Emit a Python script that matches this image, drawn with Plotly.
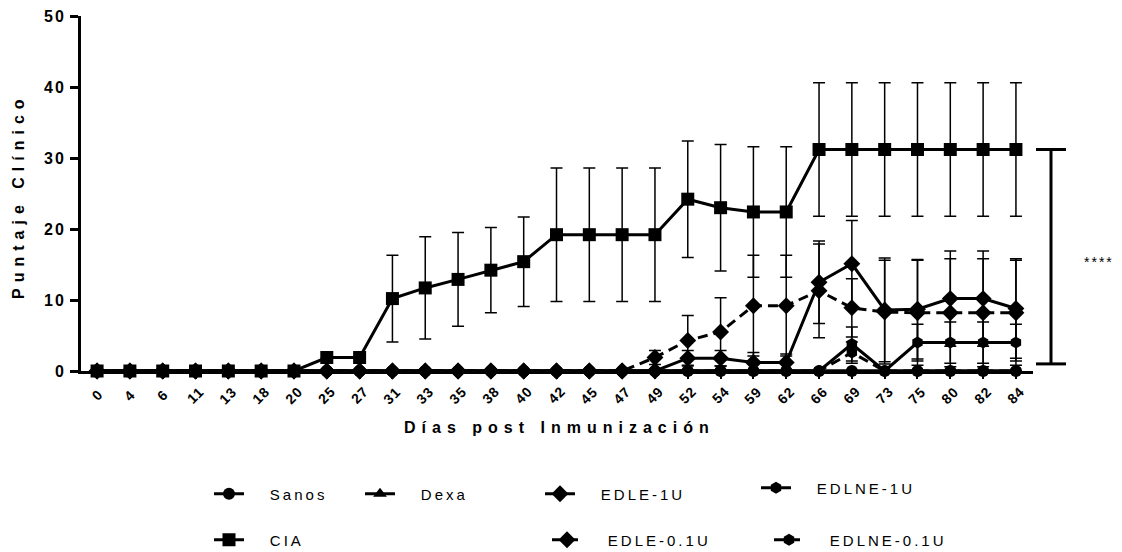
import plotly.graph_objects as go

# Days after immunization (categorical x axis)
dias = ["0", "4", "6", "11", "13", "18", "20", "25", "27", "31", "33", "35", "38", "40",
        "42", "45", "47", "49", "52", "54", "59", "62", "66", "69", "73", "75", "80", "82", "84"]

# Mean clinical score per group
sanos = [0, 0, 0, 0, 0, 0, 0, 0, 0, 0, 0, 0, 0, 0, 0, 0, 0, 0, 0, 0, 0, 0, 0, 0, 0, 0, 0, 0, 0]
dexa = [0, 0, 0, 0, 0, 0, 0, 0, 0, 0, 0, 0, 0, 0, 0, 0, 0, 0, 0, 0, 0, 0, 0, 0, 0, 0, 0, 0, 0]
edle_1u = [0, 0, 0, 0, 0, 0, 0, 0, 0, 0, 0, 0, 0, 0, 0, 0, 0, 0,
           1.8, 1.8, 1.2, 1.2, 12.5, 15.1, 8.6, 8.7, 10.2, 10.2, 8.8]
edlne_1u = [0, 0, 0, 0, 0, 0, 0, 0, 0, 0, 0, 0, 0, 0, 0, 0, 0, 0, 0, 0, 0, 0, 0,
            3.8, 0, 4.0, 4.0, 4.0, 4.0]
cia = [0, 0, 0, 0, 0, 0, 0, 1.9, 1.9, 10.2, 11.7, 12.9, 14.2, 15.4,
       19.2, 19.2, 19.2, 19.2, 24.2, 23.0, 22.4, 22.4, 31.2, 31.2, 31.2, 31.2, 31.2, 31.2, 31.2]
edle_01u = [0, 0, 0, 0, 0, 0, 0, 0, 0, 0, 0, 0, 0, 0, 0, 0, 0,
            1.9, 4.3, 5.5, 9.2, 9.2, 11.3, 8.9, 8.3, 8.2, 8.2, 8.2, 8.2]
edlne_01u = [0, 0, 0, 0, 0, 0, 0, 0, 0, 0, 0, 0, 0, 0, 0, 0, 0, 0, 0, 0, 0, 0, 0,
             2.6, 0, 0, 0, 0, 0]

# Standard deviation per group
sanos_sd = [0, 0, 0, 0, 0, 0, 0, 0, 0, 0, 0, 0, 0, 0, 0, 0, 0, 0, 0, 0, 0, 0, 0, 0, 0, 0, 0, 0, 0]
dexa_sd = [0, 0, 0, 0, 0, 0, 0, 0, 0, 0, 0, 0, 0, 0, 0, 0, 0, 0, 0, 0, 0, 0, 0, 0, 0, 0, 0, 0, 0]
edle_1u_sd = [0, 0, 0, 0, 0, 0, 0, 0, 0, 0, 0, 0, 0, 0, 0, 0, 0, 0,
              1.1, 1.1, 1.4, 1.2, 5.8, 6.1, 7.3, 7.0, 6.7, 6.7, 7.0]
edlne_1u_sd = [0, 0, 0, 0, 0, 0, 0, 0, 0, 0, 0, 0, 0, 0, 0, 0, 0, 0, 0, 0, 0, 0, 0,
               2.4, 0, 2.6, 2.9, 2.9, 2.6]
cia_sd = [0, 0, 0, 0, 0, 0, 0, 0, 0, 6.1, 7.2, 6.6, 6.0, 6.3,
          9.4, 9.4, 9.4, 9.4, 8.2, 8.9, 9.2, 9.2, 9.4, 9.4, 9.4, 9.4, 9.4, 9.4, 9.4]
edle_01u_sd = [0, 0, 0, 0, 0, 0, 0, 0, 0, 0, 0, 0, 0, 0, 0, 0, 0,
               1.0, 3.5, 4.8, 7.1, 7.1, 6.6, 4.1, 7.3, 7.4, 7.6, 7.6, 7.4]
edlne_01u_sd = [0, 0, 0, 0, 0, 0, 0, 0, 0, 0, 0, 0, 0, 0, 0, 0, 0, 0, 0, 0, 0, 0, 0,
                1.5, 0, 0, 0, 0, 0]

y_ticks = [0, 10, 20, 30, 40, 50]

# Significance bracket between the CIA plateau and the treated groups
bracket_top = 31.2
bracket_bottom = 1.0

FONT = "Liberation Sans, Arial, sans-serif"
BLACK = "#000000"

W, H = 1122, 552
ML, MR, MT, MB = 81, 89, 16, 181
PW, PH = W - ML - MR, H - MT - MB
Y_MAX = 50


def px_x(px):
    """Pixel column -> paper fraction."""
    return (px - ML) / PW


def px_y(py):
    """Pixel row -> paper fraction."""
    return (H - MB - py) / PH


series = [
    # name, values, sd, symbol, size, dash, legend id, symbol centre (px x, px y)
    ("Sanos", sanos, sanos_sd, "circle", 12, "solid", "legend", (229, 494)),
    ("Dexa", dexa, dexa_sd, "triangle-up", 12, "solid", "legend2", (380, 494)),
    ("EDLE-1U", edle_1u, edle_1u_sd, "diamond", 13, "solid", "legend3", (560, 494)),
    ("EDLNE-1U", edlne_1u, edlne_1u_sd, "hexagon", 12, "solid", "legend4", (776, 488)),
    ("CIA", cia, cia_sd, "square", 13, "solid", "legend5", (229, 540)),
    ("EDLE-0.1U", edle_01u, edle_01u_sd, "diamond", 13, "10px,6px", "legend6", (567, 540)),
    ("EDLNE-0.1U", edlne_01u, edlne_01u_sd, "hexagon", 12, "10px,6px", "legend7", (789, 540)),
]

fig = go.Figure()
legends = {}
for name, vals, sd, sym, size, dash, leg, (cx, cy) in series:
    fig.add_trace(go.Scatter(
        x=dias, y=vals,
        name='&nbsp;&nbsp;&nbsp;&nbsp;&nbsp;<span style="letter-spacing:3px">' + name + '</span>',
        mode="lines+markers",
        line=dict(color=BLACK, width=3, dash=dash),
        marker=dict(symbol=sym, size=size, color=BLACK),
        error_y=dict(type="data", array=sd, visible=True, color=BLACK,
                     thickness=1.5, width=6),
        cliponaxis=False,
        legend=leg,
    ))
    legends[leg] = dict(
        x=(cx - 20) / W, y=1 - cy / H, xref="container", yref="container",
        xanchor="left", yanchor="middle",
        bgcolor="rgba(0,0,0,0)", borderwidth=0,
        font=dict(family=FONT, size=15, color=BLACK),
        itemwidth=30,
    )

fig.update_layout(**legends)

bx = px_x(1051)
bx0, bx1 = px_x(1036), px_x(1066)
by0, by1 = bracket_bottom / Y_MAX, bracket_top / Y_MAX

# Slanted day labels, centred under each category tick (x given as category index)
day_labels = [
    dict(text='<b><span style="letter-spacing:1px">' + d + "</span></b>",
         xref="x", yref="paper", x=i, y=px_y(395),
         xanchor="center", yanchor="middle", textangle=-45, showarrow=False,
         font=dict(family=FONT, size=14, color=BLACK))
    for i, d in enumerate(dias)
]

fig.update_layout(
    width=W, height=H,
    margin=dict(l=ML, r=MR, t=MT, b=MB, autoexpand=False),
    paper_bgcolor="white", plot_bgcolor="white",
    font=dict(family=FONT, color=BLACK),
    showlegend=True,
    xaxis=dict(
        type="category", categoryorder="array", categoryarray=dias,
        range=[-0.49, 28.52], automargin=False,
        showline=True, linecolor=BLACK, linewidth=3,
        ticks="outside", ticklen=5, tickwidth=2, tickcolor=BLACK,
        showticklabels=False,
        showgrid=False, zeroline=False,
    ),
    yaxis=dict(
        range=[0, Y_MAX], automargin=False,
        showline=True, linecolor=BLACK, linewidth=3,
        ticks="outside", ticklen=8, tickwidth=3, tickcolor=BLACK,
        tickmode="array", tickvals=y_ticks,
        ticktext=['<span style="letter-spacing:2px">' + str(v) + '</span>' for v in y_ticks],
        tickfont=dict(family=FONT, size=16, color=BLACK, weight="bold"),
        ticklabelstandoff=1,
        showgrid=False, zeroline=False,
    ),
    shapes=[
        dict(type="line", xref="paper", yref="paper", x0=bx, x1=bx,
             y0=by0, y1=by1, line=dict(color=BLACK, width=3)),
        dict(type="line", xref="paper", yref="paper", x0=bx0, x1=bx1,
             y0=by1, y1=by1, line=dict(color=BLACK, width=3)),
        dict(type="line", xref="paper", yref="paper", x0=bx0, x1=bx1,
             y0=by0, y1=by0, line=dict(color=BLACK, width=3)),
    ],
    annotations=day_labels + [
        dict(text='<b><span style="letter-spacing:6px">Puntaje Clínico</span></b>',
             xref="paper", yref="paper", x=px_x(18), y=px_y(196),
             xanchor="center", yanchor="middle",
             textangle=-90, showarrow=False, font=dict(family=FONT, size=16, color=BLACK)),
        dict(text='<b><span style="letter-spacing:6px">Días post Inmunización</span></b>',
             xref="paper", yref="paper", x=px_x(559), y=px_y(427),
             xanchor="center", yanchor="middle",
             showarrow=False, font=dict(family=FONT, size=16, color=BLACK)),
        dict(text='<span style="letter-spacing:2px">****</span>',
             xref="paper", yref="paper", x=px_x(1099), y=px_y(262),
             xanchor="center", yanchor="middle",
             showarrow=False, font=dict(family=FONT, size=14, color=BLACK)),
    ],
)

fig.write_html("out.html")
